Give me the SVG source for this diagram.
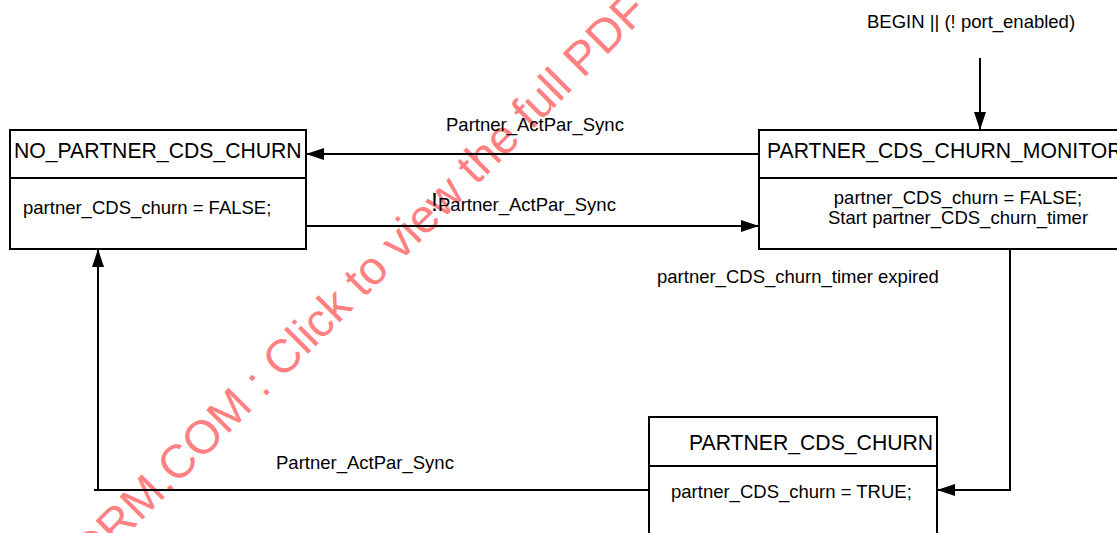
<svg xmlns="http://www.w3.org/2000/svg" width="1117" height="533" viewBox="0 0 1117 533">
  <style>
    .box { fill: #ffffff; stroke: #000000; stroke-width: 2; }
    .div { stroke: #000000; stroke-width: 2; }
    .title { font-family: "Liberation Sans", Arial, sans-serif; font-size: 21.2px; fill: #000000; }
    .txt { font-family: "Liberation Sans", Arial, sans-serif; font-size: 18.5px; fill: #000000; }
    .edge { fill: none; stroke: #000000; stroke-width: 2; }
    .wm { font-family: "Liberation Sans", Arial, sans-serif; font-size: 47px; fill: #ff8080; }
  </style>
  <defs>
    <marker id="arrow" markerUnits="userSpaceOnUse" markerWidth="18" markerHeight="12" refX="18" refY="6" orient="auto">
      <path d="M0,0 L18,6 L0,12 Z" fill="#000000"/>
    </marker>
  </defs>
  <rect x="0" y="0" width="1117" height="533" fill="#ffffff"/>

  <g id="watermark">
    <text class="wm" transform="translate(90,572) rotate(-45)" x="0" y="0">ORM.COM : Click to view the full PDF</text>
  </g>

  <g id="node-no-partner-cds-churn">
    <rect class="box" x="10" y="130" width="296" height="119"/>
    <line class="div" x1="10" y1="178" x2="306" y2="178"/>
    <text class="title" x="14" y="158">NO_PARTNER_CDS_CHURN</text>
    <text class="txt" x="23" y="214">partner_CDS_churn = FALSE;</text>
  </g>

  <g id="node-partner-cds-churn-monitor">
    <rect class="box" x="759" y="130" width="400" height="119"/>
    <line class="div" x1="759" y1="178" x2="1117" y2="178"/>
    <text class="title" x="767" y="158">PARTNER_CDS_CHURN_MONITOR</text>
    <text class="txt" x="958" y="204" text-anchor="middle">partner_CDS_churn = FALSE;</text>
    <text class="txt" x="958" y="224" text-anchor="middle">Start partner_CDS_churn_timer</text>
  </g>

  <g id="node-partner-cds-churn">
    <rect class="box" x="649" y="417" width="288" height="140"/>
    <line class="div" x1="649" y1="466" x2="937" y2="466"/>
    <text class="title" x="689" y="450">PARTNER_CDS_CHURN</text>
    <text class="txt" x="671" y="498">partner_CDS_churn = TRUE;</text>
  </g>

  <g id="connectors">
    <line class="edge" x1="980" y1="58" x2="980" y2="130" marker-end="url(#arrow)"/>
    <line class="edge" x1="759" y1="154" x2="306" y2="154" marker-end="url(#arrow)"/>
    <line class="edge" x1="306" y1="226" x2="759" y2="226" marker-end="url(#arrow)"/>
    <polyline class="edge" points="1010,249 1010,490 937,490" marker-end="url(#arrow)"/>
    <line class="edge" x1="649" y1="490" x2="94" y2="490"/>
    <line class="edge" x1="98" y1="490" x2="98" y2="249" marker-end="url(#arrow)"/>
  </g>

  <g id="labels">
    <text class="txt" x="867" y="28">BEGIN || (! port_enabled)</text>
    <text class="txt" x="446" y="131">Partner_ActPar_Sync</text>
    <text class="txt" x="431" y="211"><tspan style="font-size:25px">!</tspan><tspan x="438">Partner_ActPar_Sync</tspan></text>
    <text class="txt" x="657" y="283">partner_CDS_churn_timer expired</text>
    <text class="txt" x="276" y="469">Partner_ActPar_Sync</text>
  </g>
</svg>
